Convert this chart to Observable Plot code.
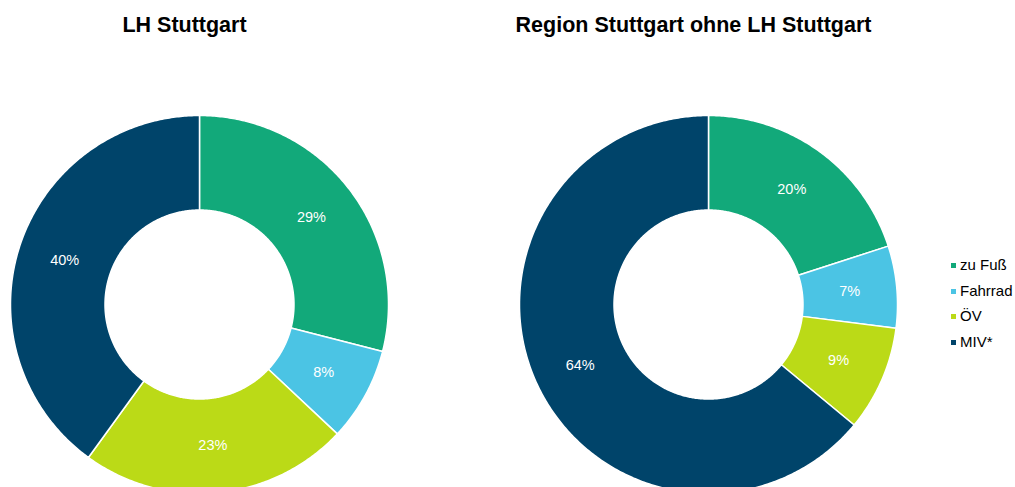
<!DOCTYPE html>
<html>
<head>
<meta charset="utf-8">
<script src="https://cdn.jsdelivr.net/npm/d3@7"></script>
<script src="https://cdn.jsdelivr.net/npm/@observablehq/plot@0.6"></script>
<style>
  html, body { margin: 0; padding: 0; background: #fff; overflow: hidden; }
  #wrap { position: relative; width: 1015px; height: 487px; font-family: "Liberation Sans", Arial, sans-serif; }
  #legend { position: absolute; left: 951px; top: 256px; font-size: 15px; color: #000; }
  #legend .row { height: 25.5px; line-height: 17px; white-space: nowrap; }
  #legend .sw { display: inline-block; width: 5px; height: 5px; margin-right: 4px; vertical-align: 2px; }
</style>
</head>
<body>
<div id="wrap"></div>
<script>
const regions = ["LH Stuttgart", "Region Stuttgart ohne LH Stuttgart"];
const categories = ["zu Fuß", "Fahrrad", "ÖV", "MIV*"];
const valuesLH = [29, 8, 23, 40];
const valuesRegion = [20, 7, 9, 64];
const colors = ["#12A97A", "#4BC4E4", "#BBDA17", "#00446A"];

const seriesByRegion = [valuesLH, valuesRegion];
const innerR = 0.5, outerR = 1, labelR = 0.75;
const pie = d3.pie().sort(null).value(d => d.value);

const polys = [];
const labels = [];
regions.forEach((region, ri) => {
  const rows = categories.map((c, i) => ({region, category: c, value: seriesByRegion[ri][i]}));
  pie(rows).forEach((arc) => {
    const a0 = arc.startAngle, a1 = arc.endAngle;
    const n = Math.max(8, Math.ceil((a1 - a0) / 0.01));
    const id = region + "|" + arc.data.category;
    for (let j = 0; j <= n; j++) {
      const a = a0 + (a1 - a0) * j / n;
      polys.push({id, region, category: arc.data.category, x: outerR * Math.sin(a), y: outerR * Math.cos(a)});
    }
    for (let j = n; j >= 0; j--) {
      const a = a0 + (a1 - a0) * j / n;
      polys.push({id, region, category: arc.data.category, x: innerR * Math.sin(a), y: innerR * Math.cos(a)});
    }
    const m = (a0 + a1) / 2;
    labels.push({region, x: labelR * Math.sin(m), y: labelR * Math.cos(m), text: arc.data.value + "%"});
  });
});

const plot = Plot.plot({
  width: 1015,
  height: 487,
  marginLeft: 10,
  marginRight: 118,
  marginTop: 115,
  marginBottom: 0,
  style: {fontFamily: '"Liberation Sans", Arial, sans-serif', background: "white"},
  fx: {domain: regions, axis: null, paddingInner: 0.2574, paddingOuter: 0},
  x: {domain: [-1, 1], axis: null},
  y: {domain: [-0.968, 1], axis: null},
  color: {domain: categories, range: colors},
  marks: [
    Plot.line(polys, {
      fx: "region", x: "x", y: "y", z: "id",
      fill: "category", stroke: "white", strokeWidth: 1.5,
      curve: "linear-closed", clip: "frame"
    }),
    Plot.text(labels, {
      fx: "region", x: "x", y: "y", text: "text",
      fill: "white", fontSize: 14.5
    }),
    Plot.text(regions.map(r => ({region: r})), {
      fx: "region", text: "region", frameAnchor: "top", lineAnchor: "middle",
      dy: -90, dx: -15, fontSize: 21.5, fontWeight: "bold", fill: "black"
    })
  ]
});

const wrap = document.getElementById("wrap");
wrap.appendChild(plot);

const colorScale = plot.scale("color");
const legend = document.createElement("div");
legend.id = "legend";
colorScale.domain.forEach((c, i) => {
  const row = document.createElement("div");
  row.className = "row";
  const sw = document.createElement("span");
  sw.className = "sw";
  sw.style.background = colorScale.range[i];
  row.appendChild(sw);
  row.appendChild(document.createTextNode(c));
  legend.appendChild(row);
});
wrap.appendChild(legend);
</script>
</body>
</html>
